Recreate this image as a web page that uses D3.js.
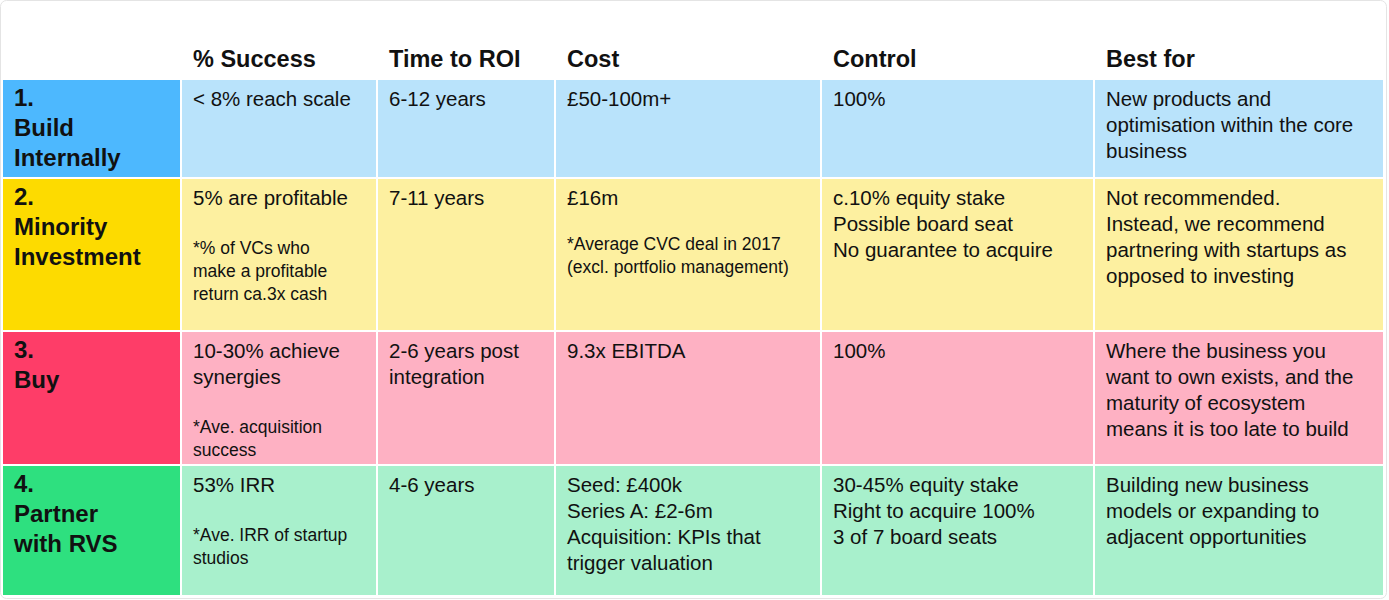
<!DOCTYPE html>
<html><head><meta charset="utf-8">
<script src="https://cdn.jsdelivr.net/npm/d3@7"></script>
<style>body{margin:0;background:#fff}svg{display:block;font-family:"Liberation Sans",Arial,Helvetica,sans-serif}</style>
</head><body><div id="chart"></div>
<script>
const columns = ["", "% Success", "Time to ROI", "Cost", "Control", "Best for"];
const options = [["1.", "Build", "Internally"], ["2.", "Minority", "Investment"], ["3.", "Buy"], ["4.", "Partner", "with RVS"]];
const successText = [
  {main: ["< 8% reach scale"], note: []},
  {main: ["5% are profitable"], note: ["*% of VCs who", "make a profitable", "return ca.3x cash"]},
  {main: ["10-30% achieve", "synergies"], note: ["*Ave. acquisition", "success"]},
  {main: ["53% IRR"], note: ["*Ave. IRR of startup", "studios"]}
];
const roiText = [["6-12 years"], ["7-11 years"], ["2-6 years post", "integration"], ["4-6 years"]];
const costText = [
  {main: ["£50-100m+"], note: []},
  {main: ["£16m"], note: ["*Average CVC deal in 2017", "(excl. portfolio management)"]},
  {main: ["9.3x EBITDA"], note: []},
  {main: ["Seed: £400k", "Series A: £2-6m", "Acquisition: KPIs that", "trigger valuation"], note: []}
];
const controlText = [["100%"], ["c.10% equity stake", "Possible board seat", "No guarantee to acquire"], ["100%"], ["30-45% equity stake", "Right to acquire 100%", "3 of 7 board seats"]];
const bestText = [
  ["New products and", "optimisation within the core", "business"],
  ["Not recommended.", "Instead, we recommend", "partnering with startups as", "opposed to investing"],
  ["Where the business you", "want to own exists, and the", "maturity of ecosystem", "means it is too late to build"],
  ["Building new business", "models or expanding to", "adjacent opportunities"]
];
const strongColors = ["#4db8fe", "#fddb00", "#fe3d68", "#2ee07f"];
const lightColors = ["#b9e3fb", "#fdf0a0", "#feb1c3", "#a8f0cc"];

const W = 1389, H = 600;
const colEdges = [3, 182, 378, 556, 822, 1095, 1385];
const rowEdges = [80, 179, 332, 466, 597];
const gap = 2;

const x = d3.scaleOrdinal().domain(d3.range(6)).range(colEdges.slice(0, 6));
const y = d3.scaleOrdinal().domain(d3.range(4)).range(rowEdges.slice(0, 4));

const svg = d3.select("#chart").append("svg").attr("width", W).attr("height", H);

svg.append("rect").attr("x", 0.5).attr("y", 0.5).attr("width", W - 3).attr("height", H - 2)
  .attr("rx", 6).attr("fill", "none").attr("stroke", "#e4e4e4");

svg.selectAll("text.colhead").data(columns).enter().append("text")
  .attr("class", "colhead")
  .attr("x", (d, i) => x(i) + 11).attr("y", 67)
  .attr("font-size", 23.5).attr("font-weight", "bold").attr("fill", "#111")
  .text(d => d);

options.forEach((opt, r) => {
  const top = y(r), h = rowEdges[r + 1] - top;
  for (let c = 0; c < 6; c++) {
    svg.append("rect").attr("x", x(c)).attr("y", top)
      .attr("width", colEdges[c + 1] - x(c) - gap).attr("height", h - gap)
      .attr("fill", c === 0 ? strongColors[r] : lightColors[r]);
  }
  const lines = (c, arr, start, lh, size, weight) => {
    svg.append("g").selectAll("text").data(arr).enter().append("text")
      .attr("x", x(c) + 11).attr("y", (d, i) => start + i * lh)
      .attr("font-size", size).attr("font-weight", weight || "normal").attr("fill", "#111")
      .text(d => d);
  };
  const base = top + 26;
  lines(0, opt, base, 30, 24, "bold");
  const s = successText[r];
  lines(1, s.main, base, 26, 20.5);
  lines(1, s.note, base + (s.main.length - 1) * 26 + 49, 23, 17.5);
  lines(2, roiText[r], base, 26, 20.5);
  const ct = costText[r];
  lines(3, ct.main, base, 26, 20.5);
  lines(3, ct.note, base + 45, 23, 17.5);
  lines(4, controlText[r], base, 26, 20.5);
  lines(5, bestText[r], base, 26, 20.5);
});
</script></body></html>
